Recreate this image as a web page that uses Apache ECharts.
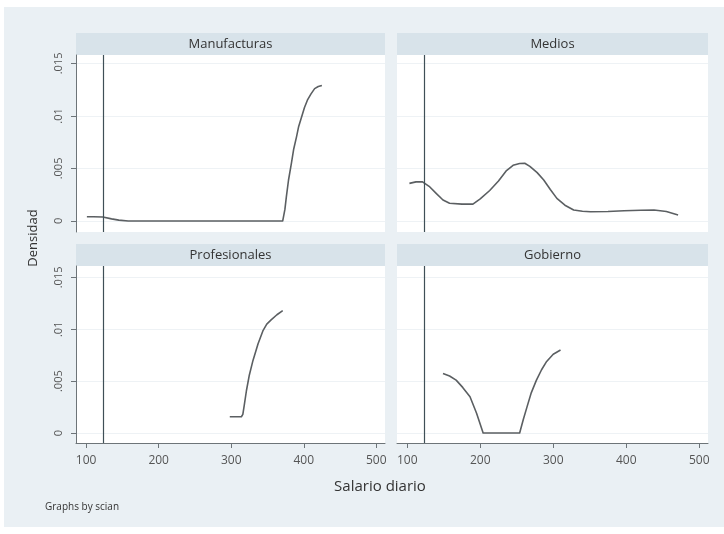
<!DOCTYPE html>
<html>
<head>
<meta charset="utf-8">
<script src="https://cdn.jsdelivr.net/npm/echarts@6/dist/echarts.min.js"></script>
<style>
  html, body { margin: 0; padding: 0; background: #fff; }
  #chart { width: 724px; height: 534px; }
</style>
</head>
<body>
<div id="chart"></div>
<script>
// panel names (scian groups)
const panelNames = ['Manufacturas', 'Medios', 'Profesionales', 'Gobierno'];

// density curves
const manufX = [101, 110, 123, 135, 145, 158, 200, 300, 371, 374, 376, 379, 383, 386, 390, 393, 397, 401, 405, 410, 415, 420, 425];
const manufY = [0.0004, 0.0004, 0.00038, 0.0002, 0.00008, 0, 0, 0, 0, 0.0011, 0.0023, 0.0039, 0.0055, 0.0068, 0.0080, 0.0090, 0.0099, 0.0108, 0.0115, 0.0121, 0.0126, 0.0128, 0.0129];

const mediosX = [103, 112, 121, 130, 140, 149, 158, 175, 190, 200, 213, 225, 236, 245, 254, 261, 268, 278, 287, 296, 305, 316, 328, 340, 351, 375, 397, 420, 438, 455, 471];
const mediosY = [0.00358, 0.00372, 0.00373, 0.0033, 0.0026, 0.0020, 0.00168, 0.0016, 0.0016, 0.0021, 0.0029, 0.0038, 0.0048, 0.0053, 0.00547, 0.0055, 0.0052, 0.0046, 0.0039, 0.0030, 0.00215, 0.0015, 0.00104, 0.00092, 0.00088, 0.0009, 0.00098, 0.00102, 0.00104, 0.0009, 0.00057];

const profX = [298, 314, 316, 318, 321, 325, 330, 337, 344, 349, 355, 363, 371];
const profY = [0.00157, 0.00157, 0.0018, 0.0027, 0.0041, 0.0056, 0.0070, 0.0086, 0.0099, 0.0105, 0.0109, 0.0114, 0.0118];

const gobX = [149, 158, 167, 176, 186, 195, 204, 254, 259, 264, 270, 277, 284, 291, 300, 310];
const gobY = [0.00574, 0.0055, 0.0051, 0.0044, 0.0035, 0.0019, 0, 0, 0.0013, 0.0025, 0.0039, 0.0051, 0.0061, 0.0069, 0.0076, 0.0080];

// axis ticks
const xTicks = [100, 200, 300, 400, 500];
const yTicks = [0, 0.005, 0.01, 0.015];
const yTickLabels = ['0', '.005', '.01', '.015'];
const xlineValue = 123;

const curves = [[manufX, manufY], [mediosX, mediosY], [profX, profY], [gobX, gobY]];

const FONT = 'Open Sans';
const grids = [
    { left: 76, top: 55, width: 309, height: 177 },
    { left: 397, top: 55, width: 311, height: 177 },
    { left: 76, top: 266, width: 309, height: 177 },
    { left: 397, top: 266, width: 311, height: 177 }
];

const chart = echarts.init(document.getElementById('chart'));

const xAxes = grids.map((g, i) => {
    const bottomRow = i >= 2;
    return {
        gridIndex: i,
        type: 'value',
        min: 86,
        max: 512,
        axisLine: { show: bottomRow, onZero: false, lineStyle: { color: '#6d7478', width: 1 } },
        axisTick: { show: bottomRow, length: 5, customValues: xTicks, lineStyle: { color: '#6d7478' } },
        axisLabel: {
            show: bottomRow, customValues: xTicks, margin: 12,
            color: '#555', fontFamily: FONT, fontSize: 12
        },
        splitLine: { show: false }
    };
});

const yAxes = grids.map((g, i) => {
    const leftCol = i % 2 === 0;
    return {
        gridIndex: i,
        type: 'value',
        min: i < 2 ? -0.00105 : -0.00096,
        max: i < 2 ? 0.0158 : 0.0161,
        axisLine: { show: leftCol, lineStyle: { color: '#6d7478', width: 1 } },
        axisTick: { show: leftCol, length: 5, customValues: yTicks, lineStyle: { color: '#6d7478' } },
        axisLabel: {
            show: leftCol, customValues: yTicks, rotate: 90, margin: 12,
            color: '#555', fontFamily: FONT, fontSize: 11,
            formatter: v => yTickLabels[yTicks.indexOf(v)] ?? String(v)
        },
        splitLine: { show: true, lineStyle: { color: '#eef2f5', width: 1 } }
    };
});

const series = curves.map((c, i) => ({
    type: 'line',
    xAxisIndex: i,
    yAxisIndex: i,
    data: c[0].map((x, k) => [x, c[1][k]]),
    showSymbol: false,
    smooth: false,
    lineStyle: { color: '#5b5f62', width: 1.6, join: 'round' },
    markLine: {
        silent: true,
        symbol: 'none',
        label: { show: false },
        lineStyle: { color: '#3f4f57', width: 1.2, type: 'solid' },
        data: [{ xAxis: xlineValue }]
    },
    z: 3
}));

const graphics = [
    { type: 'rect', shape: { x: 4, y: 7, width: 720, height: 520 }, style: { fill: '#eaf0f4' }, z: -10 }
];
grids.forEach((g, i) => {
    const stripTop = i < 2 ? 33 : 244;
    graphics.push({
        type: 'rect',
        shape: { x: g.left, y: stripTop, width: g.width, height: g.top - stripTop },
        style: { fill: '#d8e3ea' },
        z: -5
    });
    graphics.push({
        type: 'text',
        x: g.left + g.width / 2,
        y: stripTop + (g.top - stripTop) / 2,
        style: {
            text: panelNames[i], fill: '#333', font: '13px "' + FONT + '"',
            align: 'center', verticalAlign: 'middle'
        }
    });
});
graphics.push({
    type: 'text', x: 33, y: 238, rotation: Math.PI / 2,
    style: { text: 'Densidad', fill: '#333', font: '13px "' + FONT + '"', align: 'center', verticalAlign: 'middle' }
});
graphics.push({
    type: 'text', x: 380, y: 487,
    style: { text: 'Salario diario', fill: '#333', font: '15px "' + FONT + '"', align: 'center', verticalAlign: 'middle' }
});
graphics.push({
    type: 'text', x: 45, y: 507,
    style: { text: 'Graphs by scian', fill: '#333', font: '10px "' + FONT + '"', align: 'left', verticalAlign: 'middle' }
});

chart.setOption({
    backgroundColor: '#ffffff',
    animation: false,
    grid: grids.map(g => Object.assign({ show: true, backgroundColor: '#ffffff', borderWidth: 0 }, g)),
    xAxis: xAxes,
    yAxis: yAxes,
    series: series,
    graphic: graphics
});
window.addEventListener('resize', () => chart.resize());
</script>
</body>
</html>
